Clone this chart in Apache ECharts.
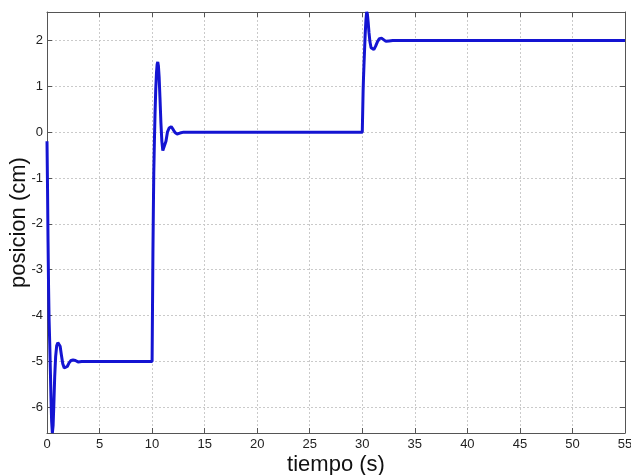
<!DOCTYPE html>
<html>
<head>
<meta charset="utf-8">
<script src="https://cdn.jsdelivr.net/npm/echarts@6/dist/echarts.min.js"></script>
<style>
html,body{margin:0;padding:0;background:#fff;}
#chart{width:631px;height:475px;}
</style>
</head>
<body>
<div id="chart"></div>
<script>
// tiempo (s) y posicion (cm)
var tiempo = [
	0, 0.05, 0.1, 0.15, 0.2, 0.26, 0.32, 0.38, 0.44, 0.51, 0.58, 0.65, 0.73, 0.82, 0.92,
	1.03, 1.14, 1.25, 1.37, 1.5, 1.64, 1.78, 1.93, 2.1, 2.28, 2.48, 2.7, 2.95, 3.3, 10.0,
	10.04, 10.08, 10.12, 10.16, 10.22, 10.28, 10.35, 10.42, 10.48, 10.54, 10.6, 10.67, 10.75, 10.84,
	10.93, 11.02, 11.1, 11.2, 11.32, 11.46, 11.62, 11.82, 12.0, 12.18, 12.38, 12.65, 13.0, 30.0,
	30.04, 30.08, 30.12, 30.16, 30.22, 30.28, 30.35, 30.42, 30.49, 30.56, 30.64, 30.73, 30.84,
	30.97, 31.1, 31.26, 31.44, 31.63, 31.83, 32.02, 32.25, 32.55, 32.9, 55.0
];
var posicion = [
	-0.2, -1.2, -2.4, -3.4, -4.1, -4.6, -5.2, -5.8, -6.3, -6.56, -6.4, -5.95, -5.35, -4.9, -4.66,
	-4.59, -4.58, -4.67, -4.86, -5.05, -5.14, -5.16, -5.11, -5.03, -4.98, -4.97, -4.98, -5.01, -5.0, -5.0,
	-3.8, -2.6, -1.7, -0.9, -0.2, 0.4, 0.95, 1.3, 1.48, 1.53, 1.45, 1.2, 0.75, 0.2,
	-0.2, -0.4, -0.44, -0.38, -0.2, 0.0, 0.09, 0.12, 0.06, -0.01, -0.04, -0.02, 0.0, 0.0,
	0.45, 0.9, 1.2, 1.45, 1.8, 2.15, 2.45, 2.62, 2.57, 2.4, 2.17, 1.97, 1.84,
	1.8, 1.8, 1.87, 1.97, 2.04, 2.05, 2.02, 1.98, 1.99, 2.0, 2.0
];
var xMin = 0, xMax = 55, xStep = 5;
var yMin = -6.56, yMax = 2.62;

var puntos = tiempo.map(function(t, i){ return [t, posicion[i]]; });

var fuente = "'Liberation Sans', Arial, sans-serif";
var ejeColor = '#555';
var rejilla = { show: true, lineStyle: { color: '#cacaca', type: [2, 2], width: 1 } };

var myChart = echarts.init(document.getElementById('chart'));
myChart.setOption({
	animation: false,
	backgroundColor: '#fff',
	grid: { left: 47, right: 6, top: 12, bottom: 42, containLabel: false, outerBoundsMode: 'none' },
	xAxis: [{
		type: 'value', min: xMin, max: xMax, interval: xStep,
		name: 'tiempo (s)', nameLocation: 'middle', nameGap: 21, nameMoveOverlap: false,
		nameTextStyle: { fontFamily: fuente, fontSize: 22, color: '#111' },
		axisLine: { show: true, onZero: false, lineStyle: { color: ejeColor, width: 1 } },
		axisTick: { show: true, inside: true, length: 5, lineStyle: { color: ejeColor } },
		axisLabel: { fontFamily: fuente, fontSize: 13, color: '#222', margin: 5 },
		splitLine: rejilla
	}, {
		type: 'value', position: 'top', min: xMin, max: xMax, interval: xStep,
		axisLine: { show: true, onZero: false, lineStyle: { color: ejeColor, width: 1 } },
		axisTick: { show: true, inside: true, length: 5, lineStyle: { color: ejeColor } },
		axisLabel: { show: false },
		splitLine: { show: false }
	}],
	yAxis: [{
		type: 'value', min: yMin, max: yMax, splitNumber: 9, minInterval: 1, maxInterval: 1,
		name: 'posicion (cm)', nameLocation: 'middle', nameGap: 17, nameMoveOverlap: false,
		nameTextStyle: { fontFamily: fuente, fontSize: 22, color: '#111' },
		axisLine: { show: true, onZero: false, lineStyle: { color: ejeColor, width: 1 } },
		axisTick: { show: true, inside: true, length: 5, lineStyle: { color: ejeColor } },
		axisLabel: { fontFamily: fuente, fontSize: 13, color: '#222', margin: 4, showMinLabel: false, showMaxLabel: false },
		splitLine: rejilla
	}, {
		type: 'value', position: 'right', min: yMin, max: yMax, splitNumber: 9, minInterval: 1, maxInterval: 1,
		axisLine: { show: true, onZero: false, lineStyle: { color: ejeColor, width: 1 } },
		axisTick: { show: true, inside: true, length: 5, lineStyle: { color: ejeColor } },
		axisLabel: { show: false },
		splitLine: { show: false }
	}],
	series: [{
		type: 'line',
		data: puntos,
		xAxisIndex: 0,
		yAxisIndex: 0,
		showSymbol: false,
		clip: true,
		lineStyle: { color: '#1414d2', width: 3 }
	}]
});
</script>
</body>
</html>
